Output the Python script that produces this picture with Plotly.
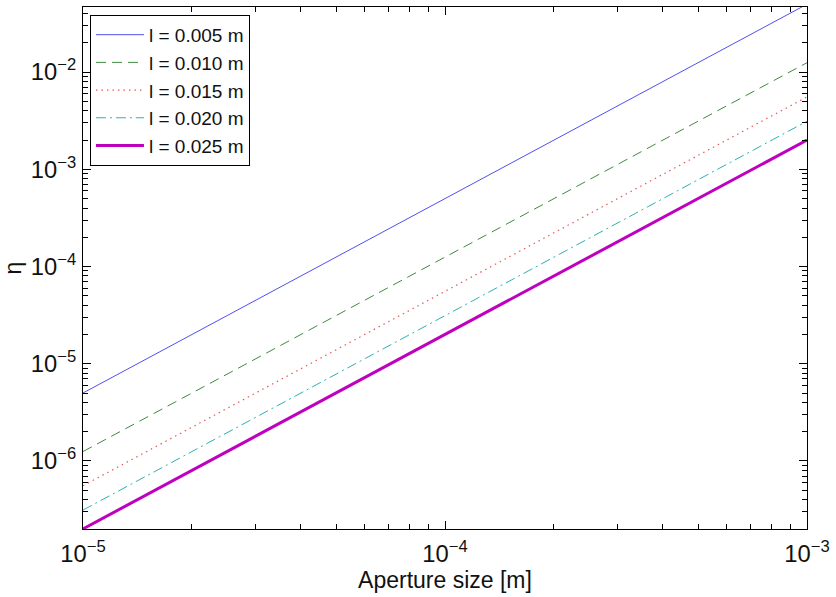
import plotly.graph_objects as go

# Aperture sizes [m] at the ends of each power-law line
aperture = [1e-5, 1e-3]

# Efficiency eta for each length l
labels = ["l = 0.005 m", "l = 0.010 m", "l = 0.015 m", "l = 0.020 m", "l = 0.025 m"]
eta_l005 = [5.0e-6, 5.0e-2]
eta_l010 = [1.25e-6, 1.25e-2]
eta_l015 = [5.56e-7, 5.56e-3]
eta_l020 = [3.125e-7, 3.125e-3]
eta_l025 = [2.0e-7, 2.0e-3]

series = [eta_l005, eta_l010, eta_l015, eta_l020, eta_l025]
styles = [
    dict(color="#5050f0", width=1, dash="solid"),
    dict(color="#3f8a3f", width=1, dash="10px,6px"),
    dict(color="#e05a5a", width=1.2, dash="1.5px,4px"),
    dict(color="#30b0b0", width=1, dash="10px,4px,2px,4px"),
    dict(color="#bf00bf", width=3, dash="solid"),
]

FONT = "Liberation Sans, Arial, sans-serif"

fig = go.Figure()
for name, y, st in zip(labels, series, styles):
    fig.add_trace(go.Scatter(x=aperture, y=y, mode="lines", name=name, line=st))

axis_common = dict(
    type="log",
    showline=True,
    linecolor="black",
    linewidth=1,
    mirror="ticks",
    ticks="inside",
    ticklen=8,
    tickcolor="black",
    showgrid=False,
    zeroline=False,
    dtick=1,
    exponentformat="power",
    tickfont=dict(family=FONT, size=19, color="#111"),
    minor=dict(ticks="inside", ticklen=5, tickcolor="black", showgrid=False),
)

fig.update_xaxes(
    **axis_common,
    range=[-5, -3],
    ticklabelstandoff=4,
    title=dict(text="Aperture size [m]", font=dict(family=FONT, size=23, color="#111"), standoff=2),
)
fig.update_yaxes(
    **axis_common,
    range=[-6.70, -1.33],
    ticklabelstandoff=2,
    title=dict(text="η", font=dict(family=FONT, size=23, color="#111"), standoff=6),
)

fig.update_layout(
    width=836,
    height=597,
    margin=dict(l=83, r=24, t=6, b=68),
    paper_bgcolor="white",
    plot_bgcolor="white",
    legend=dict(
        x=0.0096, y=0.985, xanchor="left", yanchor="top",
        bgcolor="white", bordercolor="black", borderwidth=1,
        itemwidth=48,
        font=dict(family=FONT, size=19, color="#111"),
    ),
)

fig.write_html("out.html")
